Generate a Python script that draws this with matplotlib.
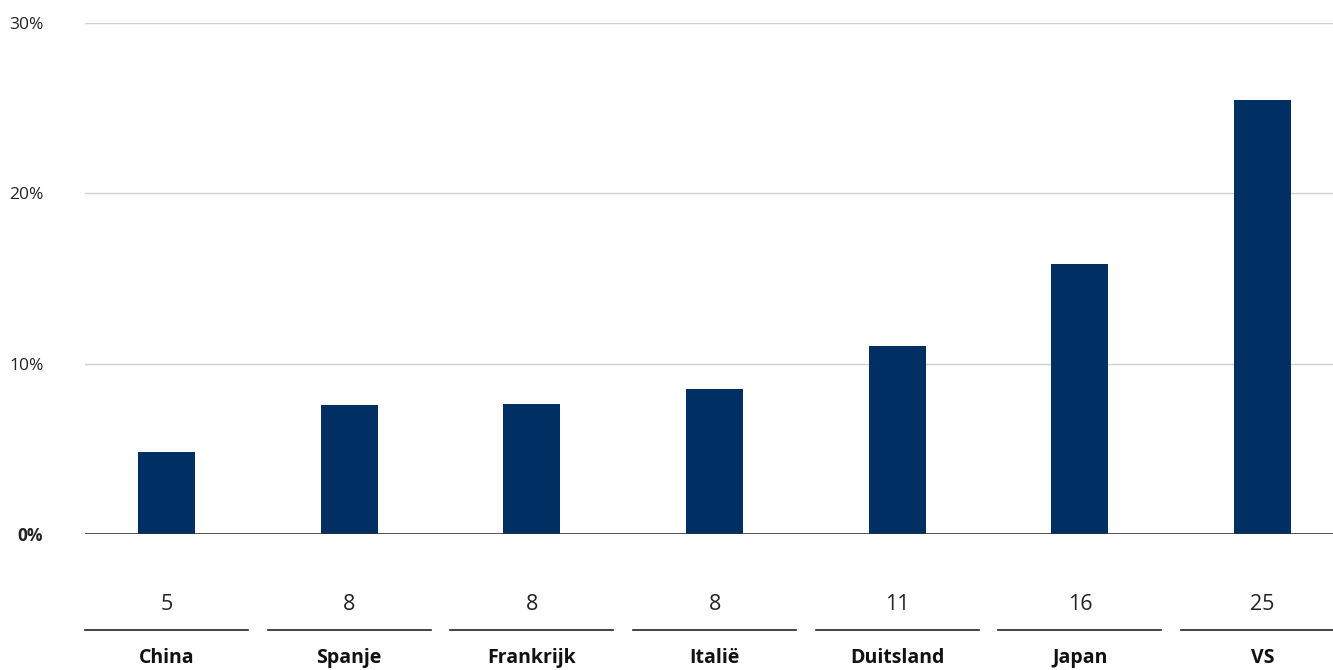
import matplotlib
matplotlib.use("Agg")
import matplotlib.pyplot as plt
from matplotlib.transforms import blended_transform_factory

categories = ["China", "Spanje", "Frankrijk", "Italië", "Duitsland", "Japan", "VS"]
values = [4.81, 7.57, 7.63, 8.51, 11.04, 15.85, 25.48]
value_labels = ["5", "8", "8", "8", "11", "16", "25"]
yticks = [0, 10, 20, 30]
ytick_labels = ["0%", "10%", "20%", "30%"]

plt.rcParams['font.family'] = ['Open Sans', 'DejaVu Sans']

W, H = 1333, 670
fig = plt.figure(figsize=(W / 100, H / 100), dpi=100)
ax = fig.add_axes([85 / W, 1 - 534 / H, 1 - 85 / W, (534 - 23) / H])

bar_color = "#003063"
x = list(range(len(categories)))
ax.bar(x, values, width=0.312, color=bar_color, zorder=3)

ax.set_xlim(-0.446, 6.385)
ax.set_ylim(0, 30)
ax.set_yticks(yticks)
ax.set_yticklabels(ytick_labels, fontsize=12.5, color="#222222")
ax.get_yticklabels()[0].set_fontweight("bold")
ax.tick_params(axis="y", length=0, pad=30)
ax.set_xticks([])
for s in ax.spines.values():
    s.set_visible(False)
for yv in yticks[1:]:
    ax.axhline(yv, color="#d0d0d0", lw=1, zorder=1)
ax.axhline(0, color="#333333", lw=1.2, zorder=4)

trans = blended_transform_factory(ax.transData, fig.transFigure)
half = 81.5 / 182.67
for i, (c, vl) in enumerate(zip(categories, value_labels)):
    ax.text(i, 1 - 605 / H, vl, transform=trans, ha="center", va="center",
            fontsize=15.5, color="#222222")
    ax.plot([i - half, i + half], [1 - 630 / H] * 2, transform=trans,
            color="#222222", lw=1.2, clip_on=False)
    ax.text(i, 1 - 658 / H, c, transform=trans, ha="center", va="center",
            fontsize=14, fontweight="bold", color="#111111")

fig.savefig("out.png", dpi=100)
